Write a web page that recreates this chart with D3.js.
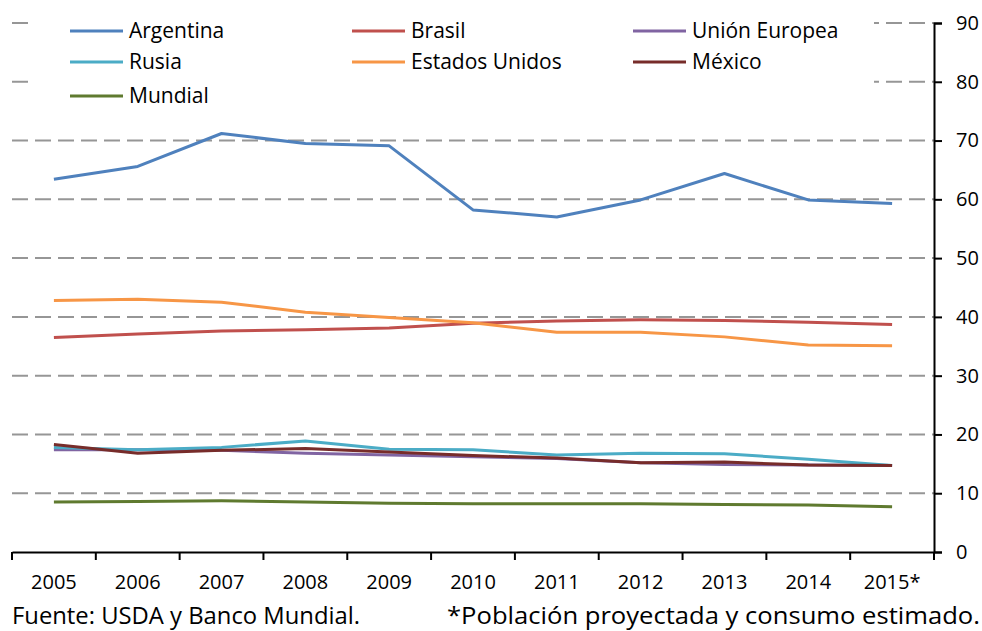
<!DOCTYPE html>
<html>
<head>
<meta charset="utf-8">
<script src="https://cdn.jsdelivr.net/npm/d3@7"></script>
<style>
  body { margin: 0; background: #fff; }
  svg { display: block; font-family: 'Open Sans', sans-serif; }
</style>
</head>
<body>
<div id="chart"></div>
<script>
const years = ['2005', '2006', '2007', '2008', '2009', '2010', '2011', '2012', '2013', '2014', '2015*'];
const yTicks = [0, 10, 20, 30, 40, 50, 60, 70, 80, 90];

const argentina = [63.4, 65.6, 71.2, 69.5, 69.1, 58.2, 57.0, 59.9, 64.4, 59.9, 59.3];
const brasil = [36.5, 37.1, 37.6, 37.8, 38.1, 38.9, 39.3, 39.5, 39.4, 39.1, 38.7];
const unionEuropea = [17.4, 17.4, 17.3, 16.8, 16.5, 16.2, 15.9, 15.2, 14.9, 14.8, 14.7];
const rusia = [17.8, 17.4, 17.8, 18.9, 17.5, 17.4, 16.5, 16.8, 16.7, 15.8, 14.7];
const estadosUnidos = [42.8, 43.0, 42.5, 40.8, 39.9, 39.0, 37.4, 37.4, 36.6, 35.2, 35.1];
const mexico = [18.3, 16.8, 17.3, 17.6, 17.0, 16.4, 16.0, 15.2, 15.3, 14.8, 14.7];
const mundial = [8.5, 8.6, 8.7, 8.5, 8.3, 8.2, 8.2, 8.2, 8.1, 8.0, 7.7];

const series = [
  { name: 'Argentina', values: argentina, color: '#4F81BD' },
  { name: 'Brasil', values: brasil, color: '#C0504D' },
  { name: 'Unión Europea', values: unionEuropea, color: '#8064A2' },
  { name: 'Rusia', values: rusia, color: '#4BACC6' },
  { name: 'Estados Unidos', values: estadosUnidos, color: '#F79646' },
  { name: 'México', values: mexico, color: '#772C2A' },
  { name: 'Mundial', values: mundial, color: '#5F7A2F' }
];

const width = 982, height = 631;
const plotLeft = 12, plotRight = 934, plotTop = 23, plotBottom = 552;

const svg = d3.select('#chart').append('svg')
  .attr('width', width)
  .attr('height', height);

const x = d3.scaleBand().domain(years).range([plotLeft, plotRight]);
const y = d3.scaleLinear().domain([0, 90]).range([plotBottom, plotTop]);

// dashed gridlines
svg.append('g')
  .selectAll('line')
  .data(yTicks.filter(d => d > 0))
  .join('line')
  .attr('x1', plotLeft)
  .attr('x2', plotRight)
  .attr('y1', d => y(d))
  .attr('y2', d => y(d))
  .attr('stroke', '#969696')
  .attr('stroke-width', 2)
  .attr('stroke-dasharray', '16,7');

// legend background hides the upper gridlines
svg.append('rect')
  .attr('x', 30)
  .attr('y', 10)
  .attr('width', 844)
  .attr('height', 104)
  .attr('fill', '#fff');

// y axis on the right
const yAxis = svg.append('g')
  .attr('transform', `translate(${plotRight},0)`)
  .call(d3.axisRight(y).tickValues(yTicks).tickSize(8).tickPadding(14));
yAxis.select('.domain').attr('stroke', '#000').attr('stroke-width', 2);
yAxis.selectAll('.tick line').attr('stroke', '#000').attr('stroke-width', 2);
yAxis.selectAll('.tick text')
  .attr('font-family', "'Open Sans', sans-serif")
  .attr('font-size', 20)
  .attr('fill', '#000');

// x axis
const xAxis = svg.append('g')
  .attr('transform', `translate(0,${plotBottom})`)
  .call(d3.axisBottom(x).tickSize(0).tickPadding(23));
xAxis.select('.domain').attr('stroke', '#000').attr('stroke-width', 2);
xAxis.selectAll('.tick text')
  .attr('font-family', "'Open Sans', sans-serif")
  .attr('font-size', 20)
  .attr('fill', '#000');

// category boundary ticks
const bounds = years.map(d => x(d)).concat([plotRight]);
svg.append('g')
  .selectAll('line')
  .data(bounds)
  .join('line')
  .attr('x1', d => d)
  .attr('x2', d => d)
  .attr('y1', plotBottom)
  .attr('y2', plotBottom + 8)
  .attr('stroke', '#000')
  .attr('stroke-width', 2);

// lines
const line = d3.line()
  .x((d, i) => x(years[i]) + x.bandwidth() / 2)
  .y(d => y(d));

svg.append('g')
  .selectAll('path')
  .data(series)
  .join('path')
  .attr('d', d => line(d.values))
  .attr('fill', 'none')
  .attr('stroke', d => d.color)
  .attr('stroke-width', 3)
  .attr('stroke-linejoin', 'round');

// legend
const legendCols = [70, 352, 633];
const legendRows = [31, 62, 96];
const legend = svg.append('g')
  .selectAll('g')
  .data(series)
  .join('g')
  .attr('transform', (d, i) => `translate(${legendCols[i % 3]},${legendRows[Math.floor(i / 3)]})`);

legend.append('line')
  .attr('x1', 0)
  .attr('x2', 53)
  .attr('stroke', d => d.color)
  .attr('stroke-width', 3);

legend.append('text')
  .attr('x', 59)
  .attr('dy', '0.35em')
  .attr('font-size', 21)
  .text(d => d.name);

// footer notes
svg.append('text')
  .attr('x', 12)
  .attr('y', 624)
  .attr('font-size', 23)
  .attr('textLength', 348)
  .attr('lengthAdjust', 'spacingAndGlyphs')
  .text('Fuente: USDA y Banco Mundial.');

svg.append('text')
  .attr('x', 447)
  .attr('y', 624)
  .attr('font-size', 23)
  .attr('textLength', 533)
  .attr('lengthAdjust', 'spacingAndGlyphs')
  .text('*Población proyectada y consumo estimado.');
</script>
</body>
</html>
